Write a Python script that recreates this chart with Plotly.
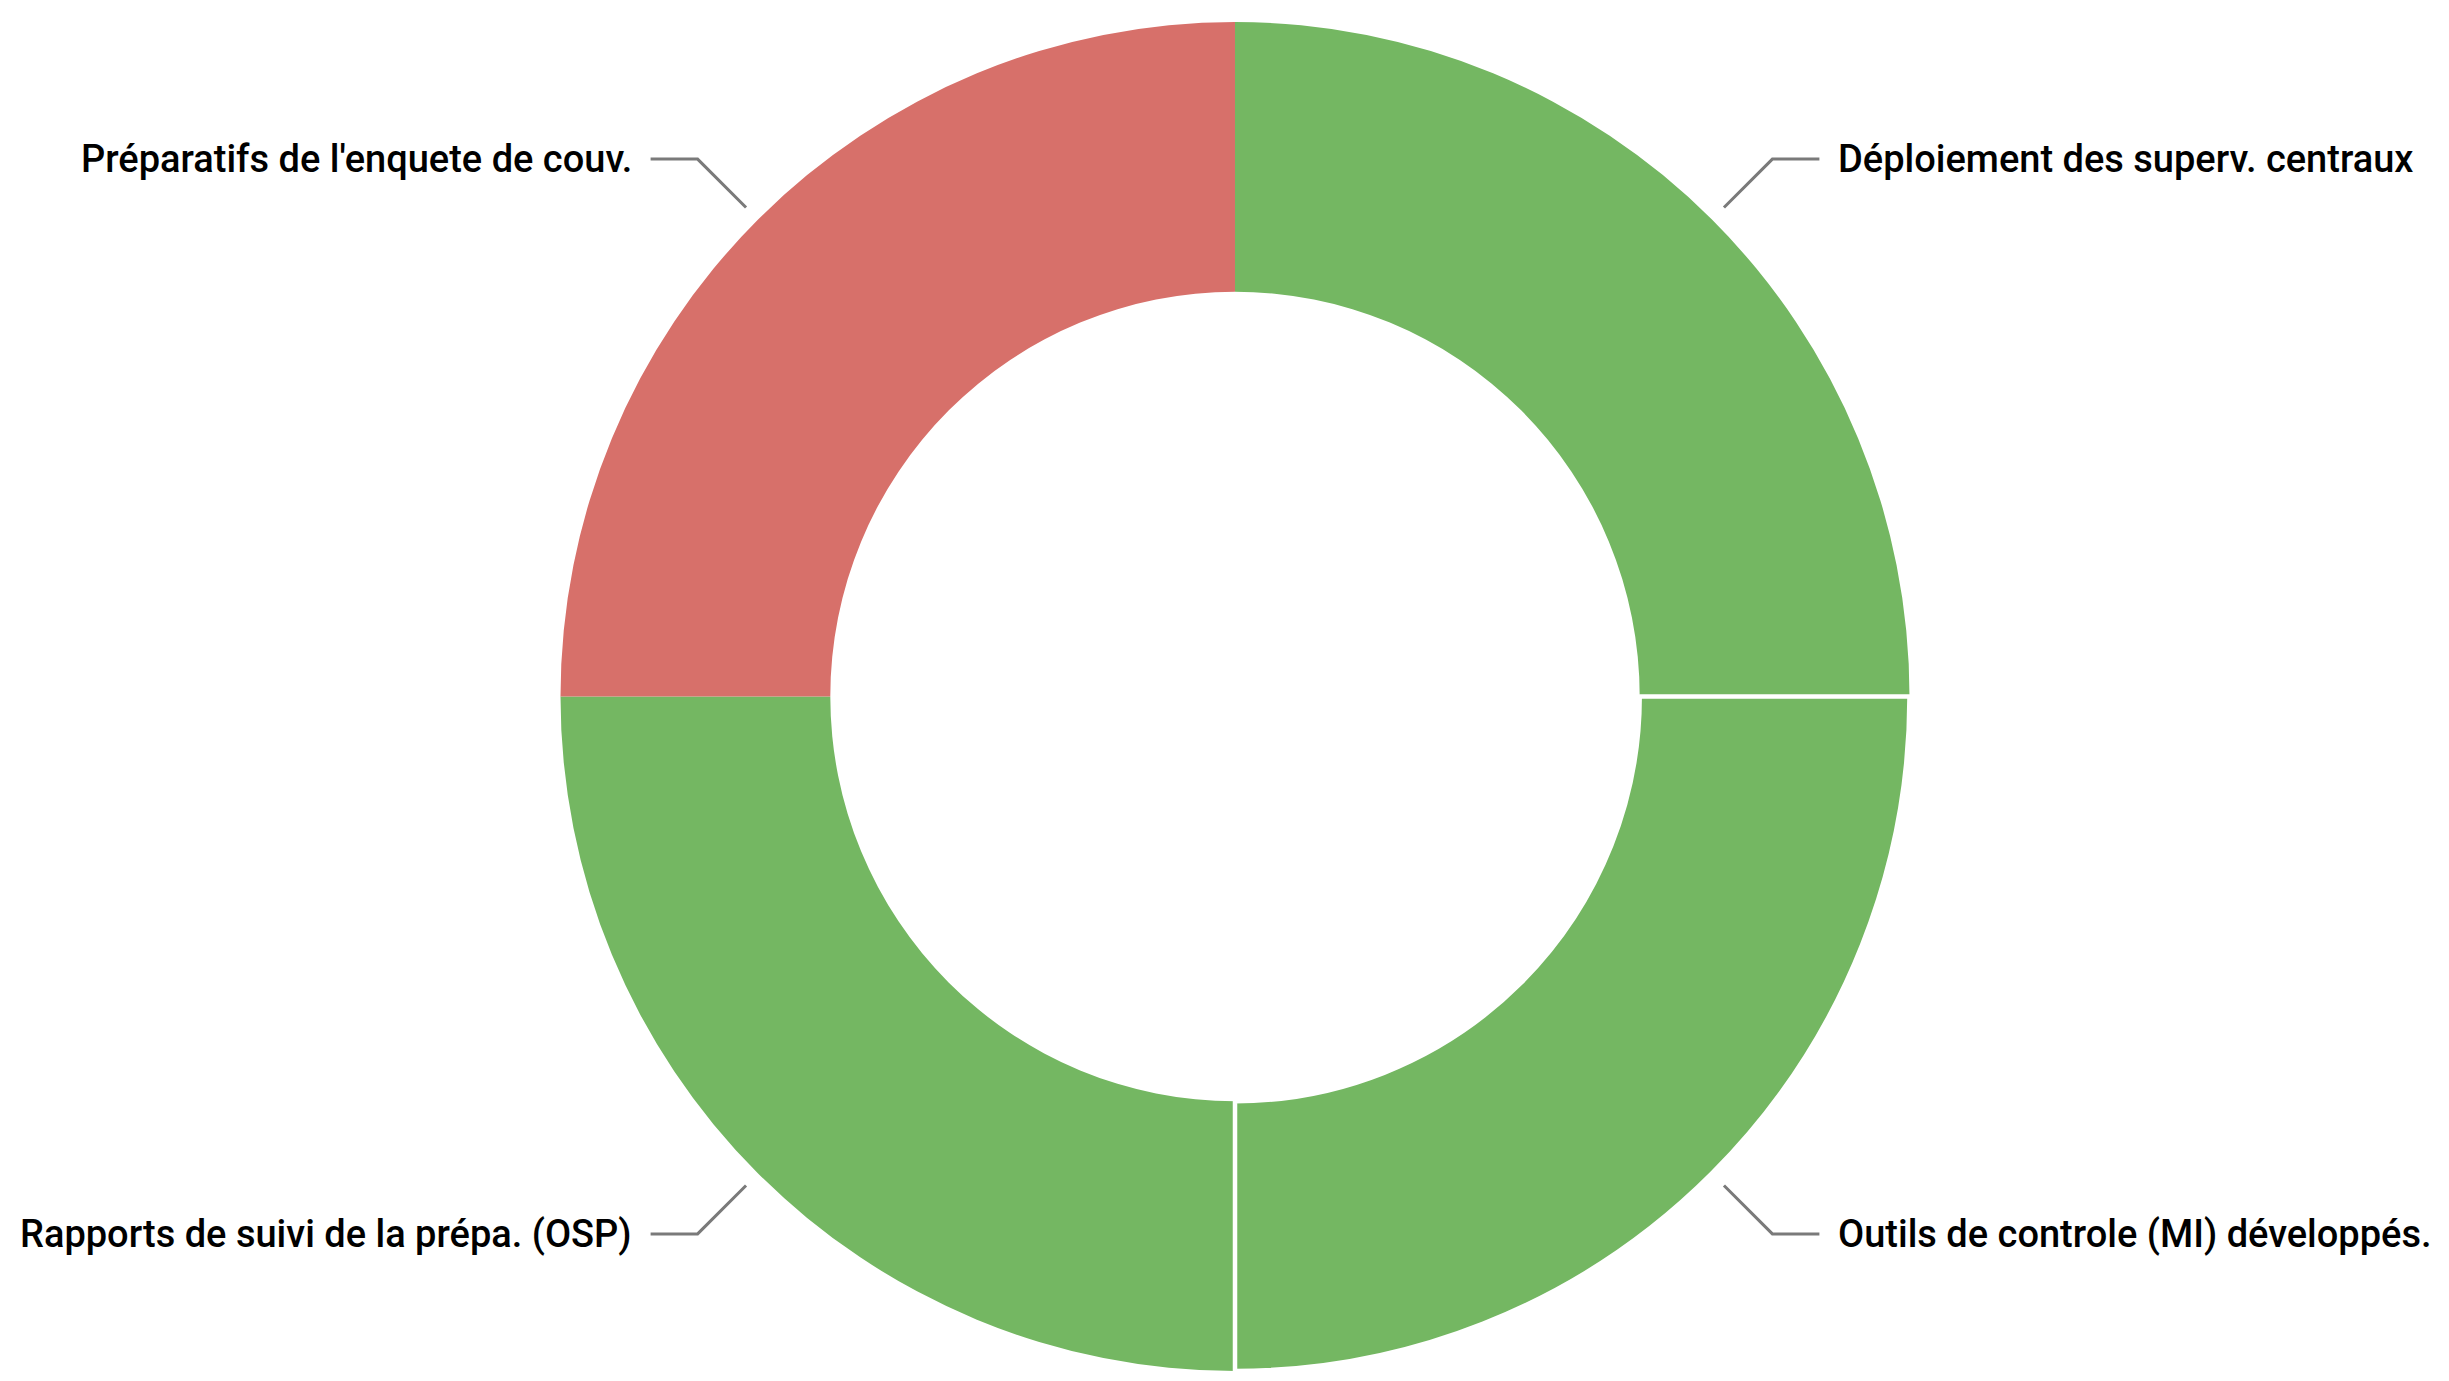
import math
import plotly.graph_objects as go

# ---- data (clockwise from 6 o'clock) ----
labels = ["Rapports de suivi de la prépa. (OSP)",
          "Préparatifs de l'enquete de couv.",
          "Déploiement des superv. centraux",
          "Outils de controle (MI) développés."]
values = [1, 1, 1, 1]
colors = ["#74B762", "#D7706A", "#74B762", "#74B762"]
border_widths = [0, 0, 0, 4.5]

W, H = 2449, 1381
OFF = 8                       # default page body margin
CX, CY = 1235 - OFF, 696.5 - OFF   # pie centre in figure px
R_OUT = 674.5
HOLE = 0.6
ROTATION = 180

dom_x = [(CX - 800) / W, (CX + 800) / W]
dom_y = [1 - (CY + R_OUT) / H, 1 - (CY - R_OUT) / H]

fig = go.Figure(go.Pie(
    labels=labels, values=values, sort=False, direction="clockwise",
    rotation=ROTATION, hole=HOLE, textinfo="none", hoverinfo="label",
    marker=dict(colors=colors, line=dict(color="white", width=border_widths)),
    domain=dict(x=dom_x, y=dom_y), showlegend=False,
))

def px2paper(x, y):
    return x / W, 1 - y / H

shapes, annotations = [], []
total = sum(values)
cum = 0
for lab, v in zip(labels, values):
    mid = math.radians(ROTATION + 360 * (cum + v / 2) / total)
    cum += v
    sx, sy = math.sin(mid), -math.cos(mid)
    x1, y1 = CX + (R_OUT + 17) * sx, CY + (R_OUT + 17) * sy
    x2, y2 = CX + 760 * sx, CY + 760 * sy
    side = 1 if sx > 0 else -1
    x3 = x2 + side * 47
    p1, p2, p3 = px2paper(x1, y1), px2paper(x2, y2), px2paper(x3, y2)
    shapes.append(dict(type="path", xref="paper", yref="paper",
                       path=f"M {p1[0]} {p1[1]} L {p2[0]} {p2[1]} L {p3[0]} {p3[1]}",
                       line=dict(color="#7a7a7a", width=3)))
    tx, ty = px2paper(x3 + side * 17, y2)
    annotations.append(dict(text=lab, x=tx, y=ty, xref="paper", yref="paper",
                            xanchor="left" if side > 0 else "right", yanchor="middle",
                            showarrow=False,
                            font=dict(family="Roboto", size=38, color="#000000", weight=500)))

fig.update_layout(width=W, height=H, margin=dict(l=0, r=0, t=0, b=0),
                  paper_bgcolor="white", plot_bgcolor="white",
                  shapes=shapes, annotations=annotations)
fig.write_html("out.html")
